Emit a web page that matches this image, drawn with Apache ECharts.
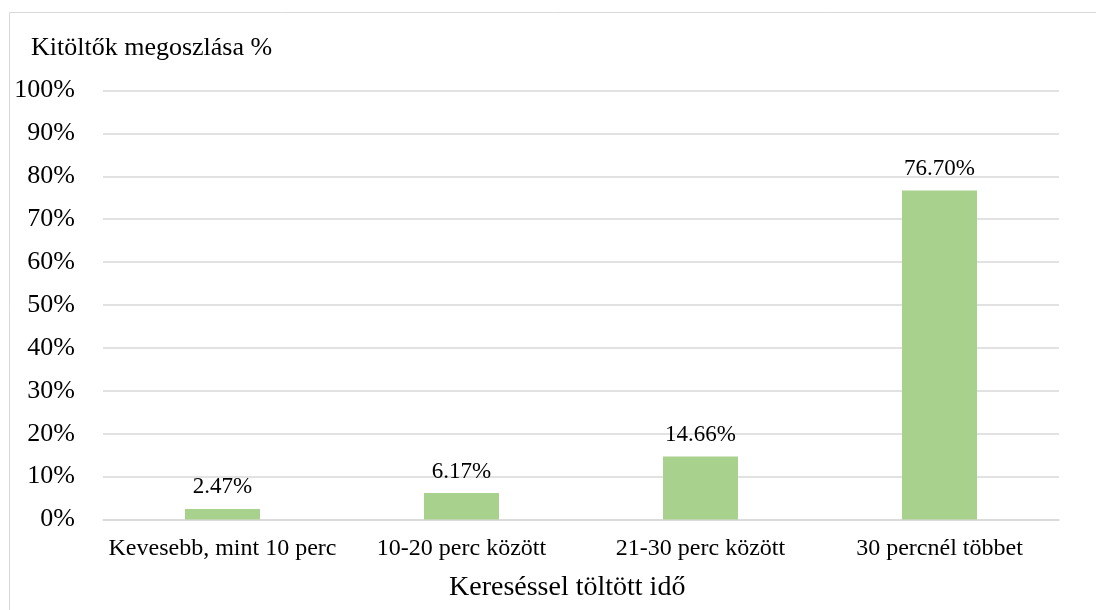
<!DOCTYPE html>
<html>
<head>
<meta charset="utf-8">
<script src="https://cdn.jsdelivr.net/npm/echarts@6/dist/echarts.min.js"></script>
<style>
html,body{margin:0;padding:0;background:#fff;}
#chart{width:1096px;height:610px;}
</style>
</head>
<body>
<div id="chart"></div>
<script>
const categories = ['Kevesebb, mint 10 perc', '10-20 perc között', '21-30 perc között', '30 percnél többet'];
const values = [2.47, 6.17, 14.66, 76.70];
const titleText = 'Kitöltők megoszlása %';
const xAxisName = 'Kereséssel töltött idő';

const FONT = '"Liberation Serif", "Times New Roman", serif';
const chart = echarts.init(document.getElementById('chart'));
chart.setOption({
  backgroundColor: '#ffffff',
  animation: false,
  graphic: [{
    type: 'rect',
    shape: { x: 9.5, y: 12.5, width: 1200, height: 700 },
    style: { fill: 'none', stroke: '#d9d9d9', lineWidth: 1 },
    silent: true
  }],
  title: [{
    text: titleText,
    left: 26,
    top: 30,
    textStyle: { fontFamily: FONT, fontSize: 26, fontWeight: 'normal', color: '#000' }
  }, {
    text: xAxisName,
    left: 444,
    top: 569,
    textStyle: { fontFamily: FONT, fontSize: 28, fontWeight: 'normal', color: '#000' }
  }],
  grid: { left: 103, right: 37, top: 90.5, bottom: 90.5, containLabel: false },
  xAxis: {
    type: 'category',
    data: categories,
    axisLine: { show: true, lineStyle: { color: '#d9d9d9', width: 1.5 } },
    axisTick: { show: false },
    axisLabel: { fontFamily: FONT, fontSize: 24, color: '#000', margin: 17, interval: 0 }
  },
  yAxis: {
    type: 'value',
    min: 0,
    max: 100,
    interval: 10,
    axisLine: { show: false },
    axisTick: { show: false },
    splitLine: { lineStyle: { color: '#d9d9d9', width: 1.5 } },
    axisLabel: { fontFamily: FONT, fontSize: 26, color: '#000', margin: 28, formatter: v => v + '%' }
  },
  series: [{
    type: 'bar',
    data: values,
    barWidth: 75,
    itemStyle: { color: '#a9d18e' },
    label: {
      show: true,
      position: 'top',
      distance: 10,
      fontFamily: FONT,
      fontSize: 23,
      color: '#000',
      formatter: p => p.value.toFixed(2) + '%'
    }
  }]
});
</script>
</body>
</html>
